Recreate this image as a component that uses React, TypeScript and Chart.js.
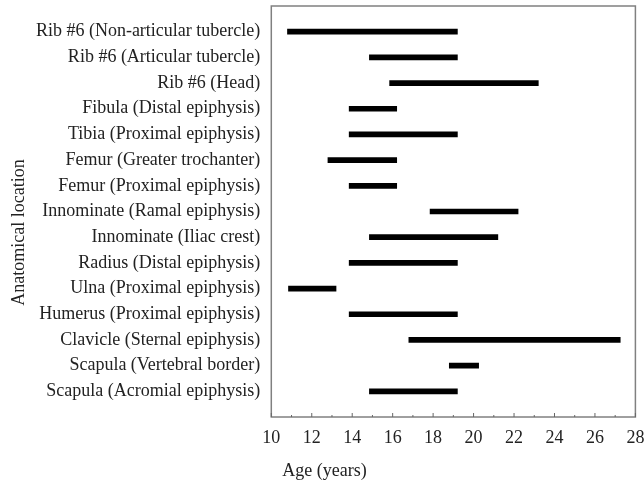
import React, { useEffect, useRef, useState } from "react";
import { Chart, registerables } from "chart.js";

Chart.register(...registerables);

const locations: string[] = [
  "Rib #6 (Non-articular tubercle)",
  "Rib #6 (Articular tubercle)",
  "Rib #6 (Head)",
  "Fibula (Distal epiphysis)",
  "Tibia (Proximal epiphysis)",
  "Femur (Greater trochanter)",
  "Femur (Proximal epiphysis)",
  "Innominate (Ramal epiphysis)",
  "Innominate (Iliac crest)",
  "Radius (Distal epiphysis)",
  "Ulna (Proximal epiphysis)",
  "Humerus (Proximal epiphysis)",
  "Clavicle (Sternal epiphysis)",
  "Scapula (Vertebral border)",
  "Scapula (Acromial epiphysis)",
];

const startAges: number[] = [10.8, 14.85, 15.85, 13.85, 13.85, 12.8, 13.85, 17.85, 14.85, 13.85, 10.85, 13.85, 16.8, 18.8, 14.85];
const endAges: number[] = [19.2, 19.2, 23.2, 16.2, 19.2, 16.2, 16.2, 22.2, 21.2, 19.2, 13.2, 19.2, 27.25, 20.25, 19.2];

const xTicks: number[] = [10, 12, 14, 16, 18, 20, 22, 24, 26, 28];
const xTitle = "Age (years)";
const yTitle = "Anatomical location";

const FONT = "'Liberation Serif', 'Times New Roman', serif";
const TEXT = "#222";
const FRAME = "#808080";

export default function App() {
  const ref = useRef<HTMLCanvasElement | null>(null);
  const [area, setArea] = useState("");

  useEffect(() => {
    if (!ref.current) return;
    const labels = ["", ...locations, ""];
    const data: ([number, number] | null)[] = [null, ...startAges.map((s, i) => [s, endAges[i]] as [number, number]), null];

    const decorPlugin = {
      id: "decor",
      afterDraw(chart: any) {
        const { ctx, chartArea } = chart;
        const xs = chart.scales.x;
        const { left, right, top, bottom } = chartArea;
        ctx.save();
        ctx.strokeStyle = FRAME;
        ctx.lineWidth = 1.5;
        ctx.strokeRect(left, top, right - left, bottom - top);
        ctx.strokeStyle = "#666";
        ctx.lineWidth = 1;
        for (let v = xTicks[0]; v <= xTicks[xTicks.length - 1]; v += 1) {
          const px = xs.getPixelForValue(v);
          const len = v % 2 === 0 ? 4 : 2;
          ctx.beginPath();
          ctx.moveTo(px, bottom);
          ctx.lineTo(px, bottom - len);
          ctx.stroke();
        }
        ctx.fillStyle = TEXT;
        ctx.font = `18px ${FONT}`;
        ctx.textAlign = "center";
        ctx.textBaseline = "middle";
        ctx.fillText(xTitle, 324.5, 471);
        ctx.translate(19, 232.5);
        ctx.rotate(-Math.PI / 2);
        ctx.fillText(yTitle, 0, 0);
        ctx.restore();
      },
    };

    const chart = new Chart(ref.current, {
      type: "bar",
      data: {
        labels,
        datasets: [
          {
            data: data as any,
            backgroundColor: "#000",
            borderWidth: 0,
            barThickness: 5,
          },
        ],
      },
      options: {
        indexAxis: "y",
        animation: false,
        responsive: false,
        maintainAspectRatio: false,
        layout: { padding: { left: 0, right: 8.6, top: 6, bottom: 0 } },
        plugins: { legend: { display: false }, tooltip: { enabled: false } },
        scales: {
          x: {
            type: "linear",
            min: 10,
            max: 28,
            afterBuildTicks: (s: any) => {
              s.ticks = xTicks.map((v) => ({ value: v }));
            },
            afterFit: (s: any) => {
              s.height = 66;
              s.paddingLeft = 0;
              s.paddingRight = 0;
            },
            grid: { display: false, drawTicks: false },
            border: { display: false },
            ticks: { color: TEXT, font: { family: FONT, size: 18 }, padding: 10, maxRotation: 0, autoSkip: false },
          },
          y: {
            type: "category",
            offset: false,
            afterFit: (s: any) => {
              s.width = 271.3;
              s.paddingTop = 0;
              s.paddingBottom = 0;
            },
            grid: { display: false, drawTicks: false, offset: false },
            border: { display: false },
            ticks: { color: TEXT, font: { family: FONT, size: 18 }, padding: 11, autoSkip: false },
          },
        },
      },
      plugins: [decorPlugin],
    });
    const ca = chart.chartArea;
    setArea(`${ca.left},${ca.top},${ca.right},${ca.bottom}`);
    return () => chart.destroy();
  }, []);

  return (
    <div data-area={area} style={{ position: "absolute", left: 0, top: 0, width: 644, height: 483, background: "#fff" }}>
      <canvas ref={ref} width={644} height={483} style={{ width: 644, height: 483 }} />
    </div>
  );
}
